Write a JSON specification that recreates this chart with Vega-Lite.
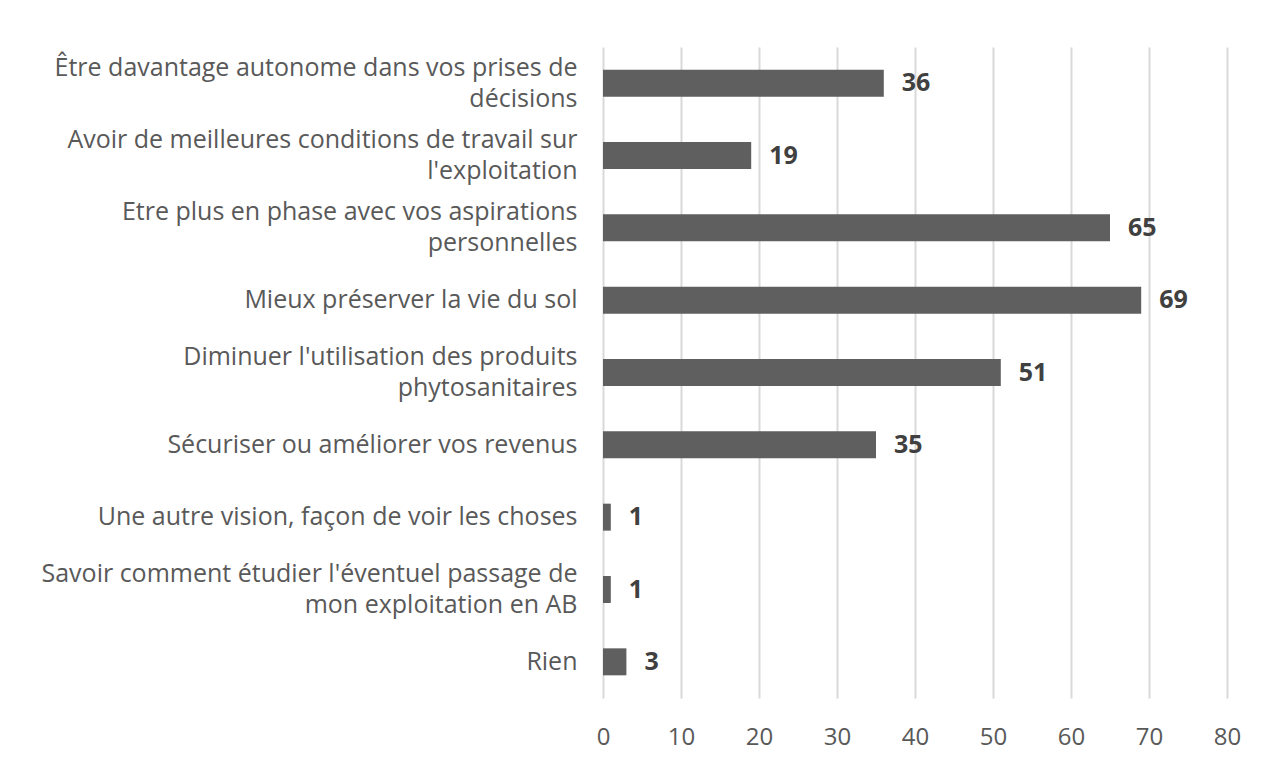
{
  "$schema": "https://vega.github.io/schema/vega-lite/v6.json",
  "autosize": {"type": "none"},
  "width": 624,
  "height": 651,
  "padding": {"left": 603, "top": 47, "right": 53, "bottom": 71},
  "background": "white",
  "config": {
    "view": {"stroke": null},
    "font": "Open Sans"
  },
  "data": {
    "values": [
      {"label": "Être davantage autonome dans vos prises de|décisions", "value": 36},
      {"label": "Avoir de meilleures conditions de travail sur|l'exploitation", "value": 19},
      {"label": "Etre plus en phase avec vos aspirations|personnelles", "value": 65},
      {"label": "Mieux préserver la vie du sol", "value": 69},
      {"label": "Diminuer l'utilisation des produits|phytosanitaires", "value": 51},
      {"label": "Sécuriser ou améliorer vos revenus", "value": 35},
      {"label": "Une autre vision, façon de voir les choses", "value": 1},
      {"label": "Savoir comment étudier l'éventuel passage de|mon exploitation en AB", "value": 1},
      {"label": "Rien", "value": 3}
    ]
  },
  "encoding": {
    "y": {
      "field": "label",
      "type": "nominal",
      "sort": null,
      "scale": {"paddingInner": 0.627, "paddingOuter": 0.3135},
      "axis": {
        "title": null,
        "domain": false,
        "ticks": false,
        "labelExpr": "split(datum.label, '|')",
        "labelFont": "Open Sans",
        "labelFontSize": 25,
        "labelColor": "#595959",
        "labelPadding": 26,
        "labelLineHeight": 31,
        "labelLimit": 700,
        "labelOffset": {"condition": {"test": "indexof(datum.label, '|') >= 0", "value": -15.5}, "value": 0}
      }
    },
    "x": {
      "field": "value",
      "type": "quantitative",
      "scale": {"domain": [0, 80], "nice": false},
      "axis": {
        "title": null,
        "values": [0, 10, 20, 30, 40, 50, 60, 70, 80],
        "domain": false,
        "ticks": false,
        "grid": true,
        "gridColor": "#d9d9d9",
        "gridWidth": 2,
        "labelFlush": false,
        "labelFont": "Open Sans",
        "labelFontSize": 24,
        "labelColor": "#595959",
        "labelPadding": 27
      }
    }
  },
  "layer": [
    {"mark": {"type": "bar", "color": "#5f5f5f"}},
    {
      "mark": {
        "type": "text",
        "align": "left",
        "baseline": "middle",
        "dx": 18,
        "fontWeight": "bold",
        "fontSize": 25,
        "color": "#404040",
        "font": "Open Sans"
      },
      "encoding": {"text": {"field": "value", "type": "quantitative"}}
    }
  ]
}
